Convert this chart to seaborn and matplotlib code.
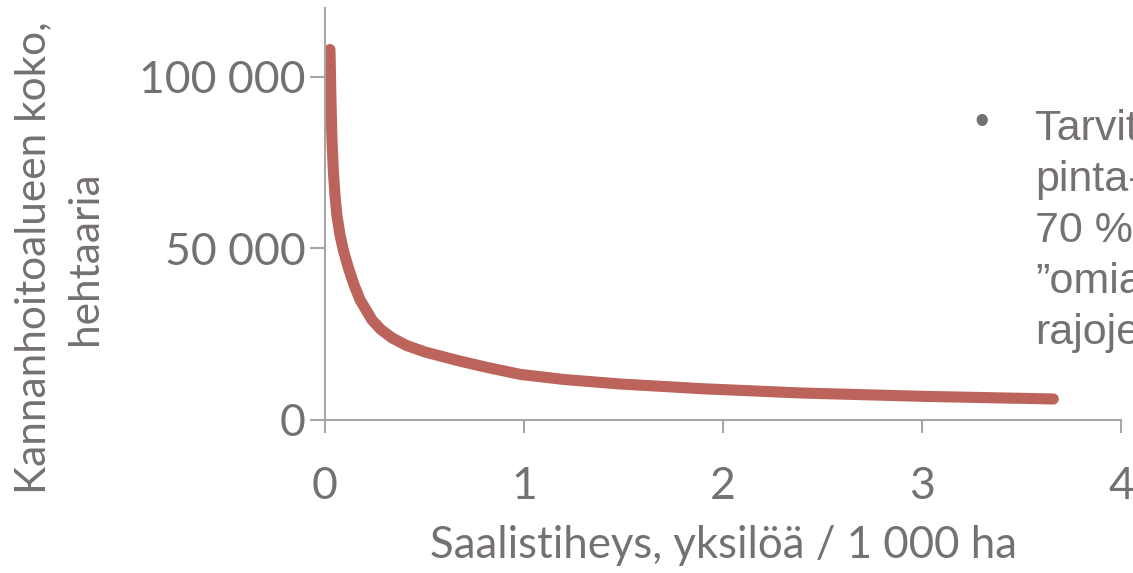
import matplotlib
matplotlib.use("Agg")
import matplotlib.pyplot as plt
import seaborn as sns
import pandas as pd

# luettu kuvasta: saalistiheys (yksilöä / 1000 ha) ja kannanhoitoalueen koko (ha)
tiheys = [0.025, 0.030, 0.035, 0.042, 0.05, 0.06, 0.075, 0.092, 0.116, 0.145,
          0.176, 0.236, 0.28, 0.337, 0.41, 0.503, 0.668, 0.804, 0.98, 1.20,
          1.48, 1.90, 2.39, 3.00, 3.66]
koko = [107900, 93000, 81600, 72500, 65500, 59500, 54000, 49500, 44600, 39500,
        35000, 29150, 26400, 23900, 21700, 19800, 17300, 15450, 13300, 11800,
        10500, 9100, 7870, 6900, 6120]

x_ticks = [0, 1, 2, 3, 4]
y_ticks = [0, 50000, 100000]
y_tick_labels = ["0", "50 000", "100 000"]

side_lines = ["Tarvittava", "pinta-ala", "70 %", "\u201domia", "rajojen"]

df = pd.DataFrame({"tiheys": tiheys, "koko": koko})

sns.set_theme(style="white")
plt.rcParams["font.family"] = ["Lato", "DejaVu Sans"]

grey_txt = "#767171"
grey_ax = "#A6A6A6"
W, H = 1133, 573

fig = plt.figure(figsize=(W / 100, H / 100), dpi=100)
ax = fig.add_axes([325 / W, 1 - 420 / H, (1121 - 325) / W, (420 - 8) / H])

sns.lineplot(data=df, x="tiheys", y="koko", ax=ax, color="#BC645C",
             linewidth=8, solid_capstyle="round", solid_joinstyle="round", sort=True)

ax.set_xlim(0, 4)
ax.set_ylim(0, 120000)
ax.set_xticks(x_ticks)
ax.set_xticklabels([str(t) for t in x_ticks])
ax.set_yticks(y_ticks)
ax.set_yticklabels(y_tick_labels)

for side in ["top", "right"]:
    ax.spines[side].set_visible(False)
for side in ["left", "bottom"]:
    ax.spines[side].set_color(grey_ax)
    ax.spines[side].set_linewidth(1.5)

ax.tick_params(axis="x", direction="out", length=9, width=1.5, color=grey_ax,
               labelsize=32, labelcolor=grey_txt, pad=24)
ax.tick_params(axis="y", direction="out", length=11, width=1.5, color=grey_ax,
               labelsize=32, labelcolor=grey_txt, pad=3)
ax.tick_params(axis="both", which="both", bottom=True, left=True)

ax.set_xlabel("Saalistiheys, yksilöä / 1 000 ha", fontsize=31.5, color=grey_txt)
ax.xaxis.set_label_coords(0.5, -0.255)
ax.set_ylabel("Kannanhoitoalueen koko,\nhehtaaria", fontsize=30.5, color=grey_txt,
              linespacing=1.45, va="center")
ax.yaxis.set_label_coords((59 - 325) / 796, (420 - 258) / 412)
ax.grid(False)

# leikattu diateksti oikealla
side_font = ["Liberation Sans", "DejaVu Sans"]
fig.text(982 / W, 1 - 123 / H, "\u2022", fontsize=30, color=grey_txt,
         family=side_font, va="center", ha="center")
for i, line in enumerate(side_lines):
    fig.text(1035 / W, 1 - (140 + i * 51) / H, line, fontsize=31, color=grey_txt,
             family=side_font, va="baseline", ha="left")

fig.savefig("out.png", dpi=100)
